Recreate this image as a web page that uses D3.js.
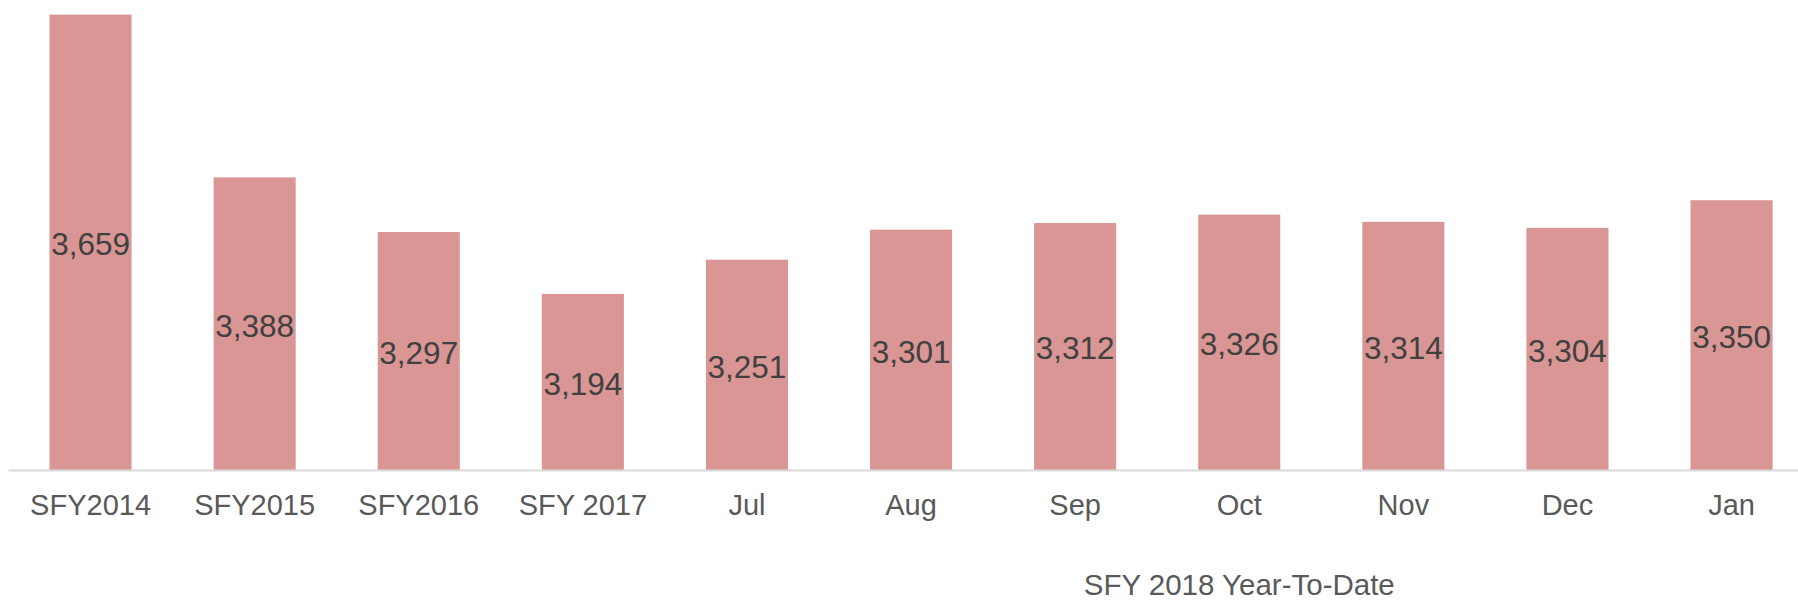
<html>
<script src="https://d3js.org/d3.v7.min.js"></script>
<style>
body{margin:0;background:#fff;}
svg{display:block;font-family:"Liberation Sans",Arial,sans-serif;}
</style>
<div class="chart"></div>
<script>
const categories = ['SFY2014','SFY2015','SFY2016','SFY 2017','Jul','Aug','Sep','Oct','Nov','Dec','Jan'];
const counts = [3659, 3388, 3297, 3194, 3251, 3301, 3312, 3326, 3314, 3304, 3350];
const groupTitle = 'SFY 2018 Year-To-Date';
const groupFirst = 'Jul', groupLast = 'Jan';

const width = 1798;
const height = 602;
const baseY = 470.5;

const x = d3.scaleBand()
  .domain(categories)
  .range([8.5, 8.5 + 11*164.1])
  .paddingInner(0.5)
  .paddingOuter(0.25);

const y = d3.scaleLinear()
  .domain([2900, 3700])
  .range([baseY, -10]);

const fmt = d3.format(',');
const data = categories.map((c,i)=>({cat:c, value:counts[i]}));

const svg = d3.select('.chart')
  .append('svg')
    .attr('width', width)
    .attr('height', height);

svg.selectAll('rect.bar')
  .data(data)
  .enter()
  .append('rect')
    .attr('class','bar')
    .attr('x', d=>x(d.cat))
    .attr('width', x.bandwidth())
    .attr('y', d=>y(d.value))
    .attr('height', d=>baseY - y(d.value))
    .attr('fill', '#D99694');

// value labels at the middle of each bar
svg.selectAll('text.val')
  .data(data)
  .enter()
  .append('text')
    .attr('class','val')
    .attr('x', d=>x(d.cat) + x.bandwidth()/2)
    .attr('y', d=>(y(d.value) + baseY)/2)
    .attr('dy', '0.4em')
    .attr('text-anchor','middle')
    .attr('font-size', 31.5)
    .attr('fill', '#404040')
    .text(d=>fmt(d.value));

// x axis
const axis = svg.append('g')
  .attr('transform', `translate(0,${baseY})`)
  .call(d3.axisBottom(x).tickSize(0).tickPadding(24));
axis.select('.domain')
  .attr('d', `M8.5,0H${width}`)
  .attr('stroke', '#D9D9D9')
  .attr('stroke-width', 2);
axis.selectAll('.tick text')
  .attr('font-size', 29)
  .attr('font-family', '"Liberation Sans",Arial,sans-serif')
  .attr('fill', '#595959');

const gx = (x(groupFirst) + x(groupLast) + x.bandwidth())/2;
svg.append('text')
  .attr('x', gx)
  .attr('y', 595)
  .attr('text-anchor','middle')
  .attr('font-size', 29.5)
  .attr('fill', '#595959')
  .text(groupTitle);
</script>
</html>
